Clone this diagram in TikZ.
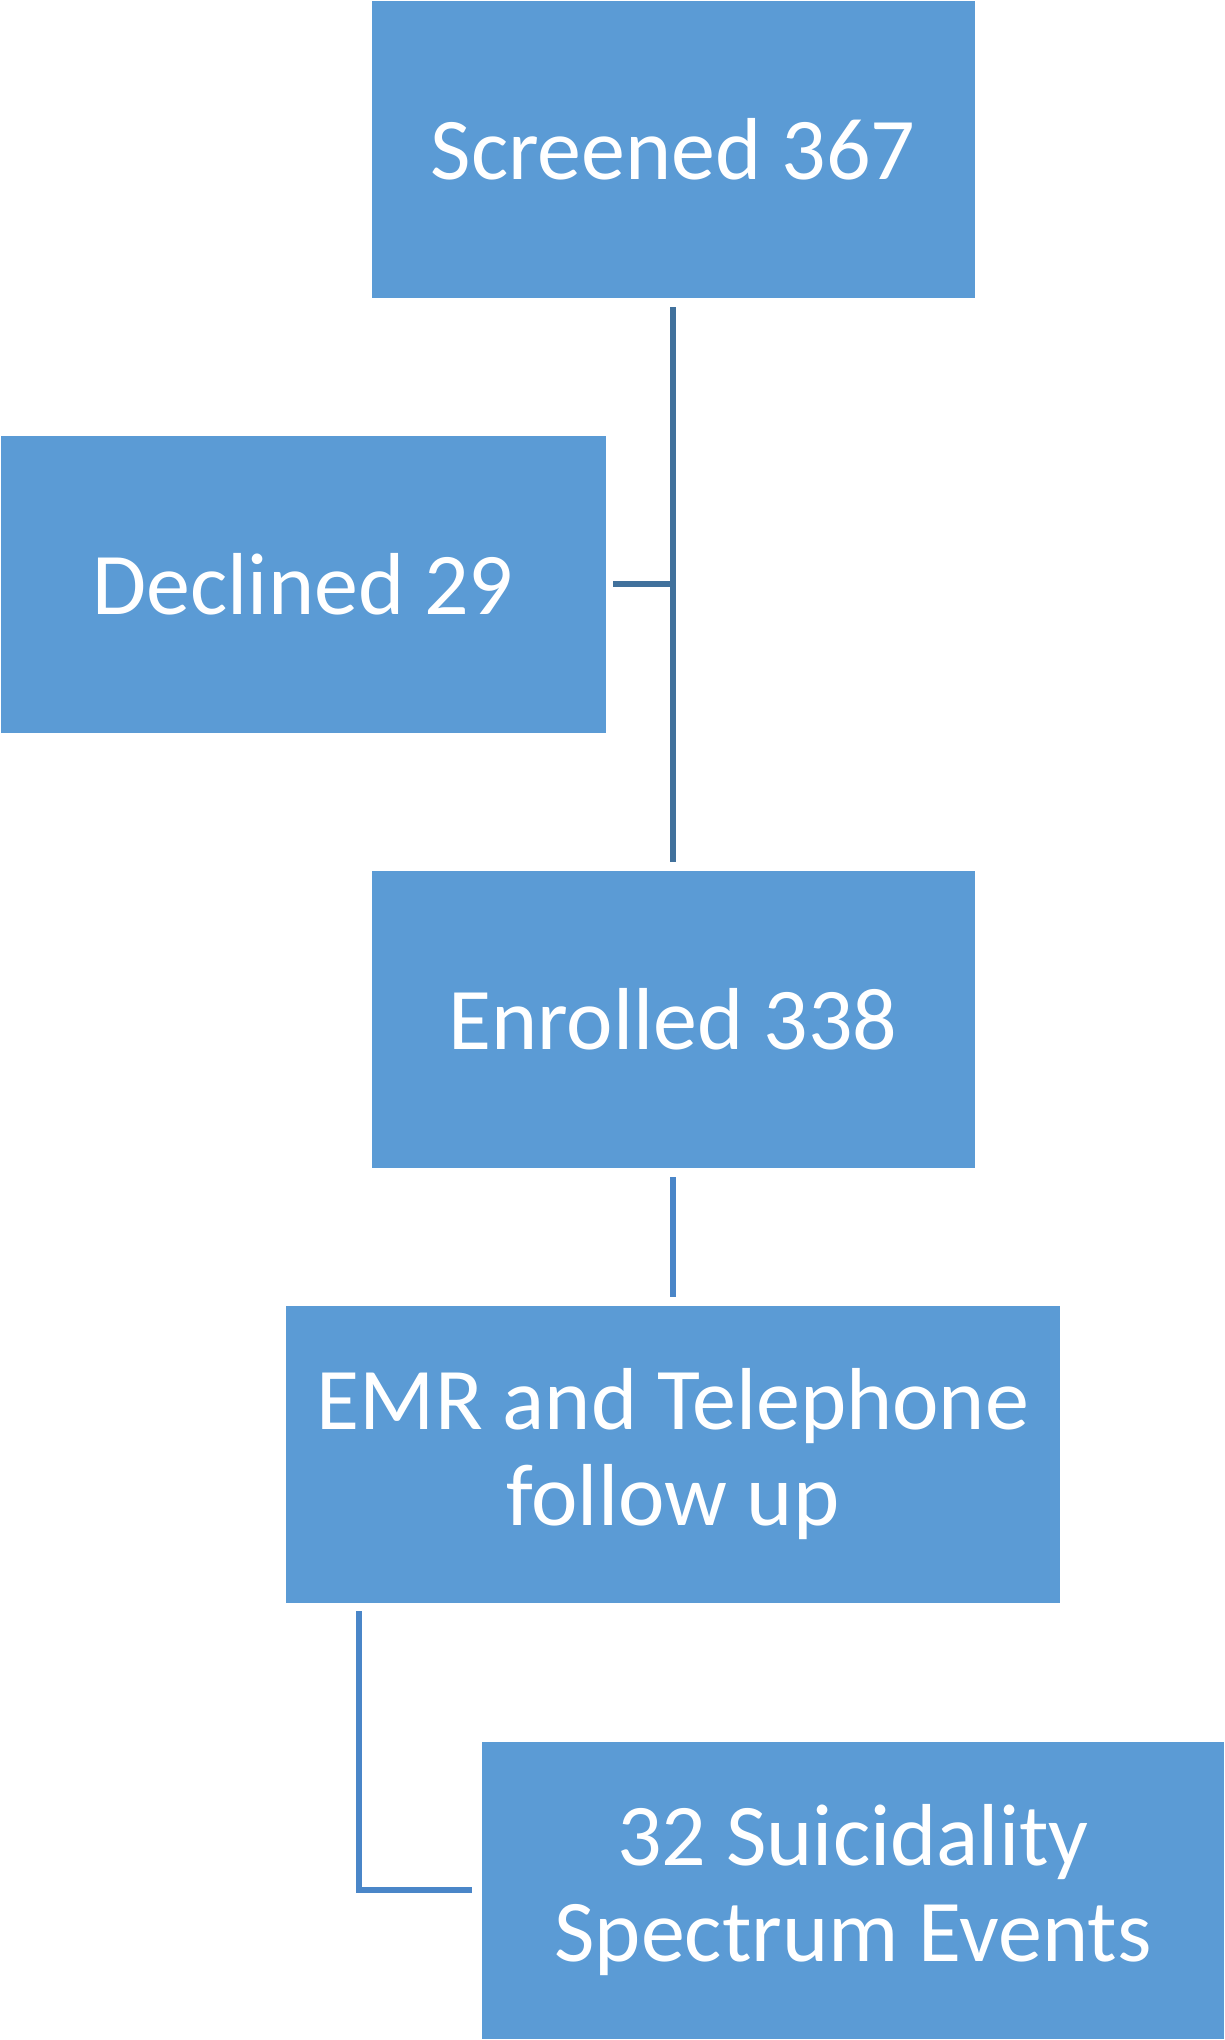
\documentclass[tikz,border=0pt]{standalone}
\usepackage{fontspec}
\setmainfont{Carlito}
\usetikzlibrary{shapes.geometric, arrows}
\definecolor{boxblue}{HTML}{5B9BD5}
\definecolor{linedark}{HTML}{41719C}
\definecolor{linelight}{HTML}{4A86C8}
\tikzstyle{stage} = [rectangle, minimum height=298pt, inner sep=0pt, text centered, align=center, fill=boxblue, draw=white, line width=0.8pt, text=white, font=\fontsize{88}{96}\selectfont]
\tikzstyle{connector} = [line width=6pt, draw=linedark, shorten <=9pt, shorten >=8pt]
\begin{document}
\begin{tikzpicture}[x=1pt, y=1pt, node distance=435pt]
\useasboundingbox (0,0) rectangle (1225,-2040);

%% NODES

\node (screened) [stage, minimum width=604pt] at (673,-149) {Screened 367};
\node (declined) [stage, minimum width=606pt, below of=screened, xshift=-370pt] {Declined 29};
\node (enrolled) [stage, minimum width=604pt, below of=screened, node distance=870pt] {Enrolled 338};
\node (emr) [stage, minimum width=775pt, below of=enrolled] {EMR and Telephone\\follow up};
\node (events) [stage, minimum width=743pt, below of=emr, node distance=436pt, xshift=180pt] {32 Suicidality\\Spectrum Events};

%% CONNECTORS

\draw [connector] (screened) -- (enrolled);
\draw [connector, shorten <=7pt, shorten >=0pt] (declined.east) -- (declined.east -| screened.south);
\draw [connector, draw=linelight] (enrolled) -- (emr);
\draw [connector, draw=linelight, shorten <=8pt, shorten >=9pt] ([xshift=74pt]emr.south west) |- (events.west);
\end{tikzpicture}
\end{document}
